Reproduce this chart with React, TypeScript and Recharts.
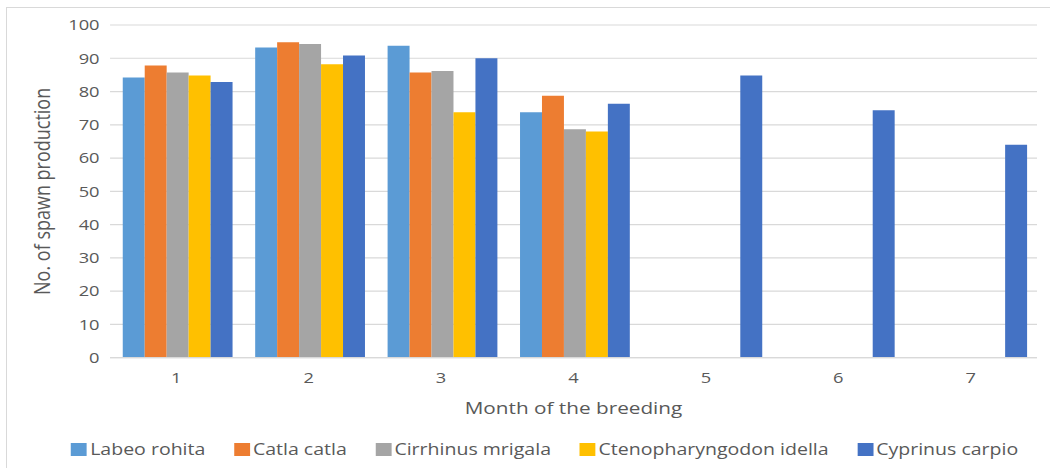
import React from 'react';
import { BarChart, Bar, XAxis, YAxis, CartesianGrid, Legend } from 'recharts';

const months = ['1', '2', '3', '4', '5', '6', '7'];
const labeoRohita = [84.2, 93.2, 93.8, 73.8, null, null, null];
const catlaCatla = [87.8, 94.8, 85.7, 78.7, null, null, null];
const cirrhinusMrigala = [85.7, 94.3, 86.2, 68.7, null, null, null];
const ctenopharyngodonIdella = [84.8, 88.2, 73.8, 68.0, null, null, null];
const cyprinusCarpio = [82.9, 90.8, 90.0, 76.3, 84.8, 74.4, 64.0];
const yTicks = [0, 10, 20, 30, 40, 50, 60, 70, 80, 90, 100];

const series = [
  { key: 'labeo', name: 'Labeo rohita', color: '#5B9BD5', values: labeoRohita },
  { key: 'catla', name: 'Catla catla', color: '#ED7D31', values: catlaCatla },
  { key: 'cirrhinus', name: 'Cirrhinus mrigala', color: '#A5A5A5', values: cirrhinusMrigala },
  { key: 'cteno', name: 'Ctenopharyngodon idella', color: '#FFC000', values: ctenopharyngodonIdella },
  { key: 'cyprinus', name: 'Cyprinus carpio', color: '#4472C4', values: cyprinusCarpio },
];

const data = months.map((m, i) => {
  const row: Record<string, any> = { month: m };
  series.forEach((s) => {
    row[s.key] = s.values[i];
  });
  return row;
});

const SX = 1.22;
const W = 861;
const H = 468;
const FONT = '"Open Sans", sans-serif';
const TEXT = '#595959';

const LegendContent = () => (
  <div
    style={{
      display: 'flex',
      justifyContent: 'center',
      alignItems: 'center',
      width: 779,
      marginLeft: 57,
      height: 22,
      fontFamily: FONT,
      fontSize: 16,
      color: TEXT,
    }}
  >
    {series.map((s, i) => (
      <div
        key={s.key}
        style={{ display: 'flex', alignItems: 'center', marginLeft: i === 0 ? 0 : 23.5 }}
      >
        <span style={{ display: 'inline-block', width: 13, height: 13, background: s.color, marginRight: 2.5 }} />
        <span style={{ whiteSpace: 'nowrap' }}>{s.name}</span>
      </div>
    ))}
  </div>
);

export default function App() {
  return (
    <div style={{ position: 'absolute', left: 0, top: 0, width: 1050, height: 468, overflow: 'hidden', background: '#fff' }}>
      <div
        style={{
          position: 'absolute',
          left: 6,
          top: 7,
          width: 1060,
          height: 480,
          border: '1px solid #d9d9d9',
          boxSizing: 'border-box',
        }}
      />
      <div style={{ position: 'absolute', left: 0, top: 0, width: W, height: H, transform: `scaleX(${SX})`, transformOrigin: '0 0' }}>
        <BarChart
          width={W}
          height={H}
          data={data}
          margin={{ top: 25, right: 11, bottom: 8, left: 20 }}
          barCategoryGap="9.6%"
          barGap={0}
          style={{ fontFamily: FONT }}
        >
          <CartesianGrid vertical={false} stroke="#d9d9d9" strokeWidth={1.2} />
          <XAxis
            dataKey="month"
            height={80.3}
            axisLine={{ stroke: '#d9d9d9', strokeWidth: 1.2 }}
            tickLine={false}
            tickSize={0}
            tickMargin={15}
            tick={{ fill: TEXT, fontSize: 15, fontFamily: FONT }}
            label={{ value: 'Month of the breeding', position: 'insideBottom', offset: 24, fill: TEXT, fontSize: 17, fontFamily: FONT }}
          />
          <YAxis
            width={70.2}
            domain={[0, 100]}
            ticks={yTicks}
            interval={0}
            axisLine={false}
            tickLine={false}
            tickSize={0}
            tickMargin={8.6}
            tick={{ fill: TEXT, fontSize: 15, fontFamily: FONT }}
            label={{
              value: 'No. of spawn production',
              angle: -90,
              position: 'insideLeft',
              offset: 14.4,
              fill: TEXT,
              fontSize: 18,
              fontFamily: FONT,
              style: { textAnchor: 'middle' },
            }}
          />
          <Legend
            verticalAlign="bottom"
            content={<LegendContent />}
            wrapperStyle={{ left: 0, width: W, bottom: 8, height: 22 }}
          />
          {series.map((s) => (
            <Bar key={s.key} dataKey={s.key} name={s.name} fill={s.color} isAnimationActive={false} />
          ))}
        </BarChart>
      </div>
    </div>
  );
}
